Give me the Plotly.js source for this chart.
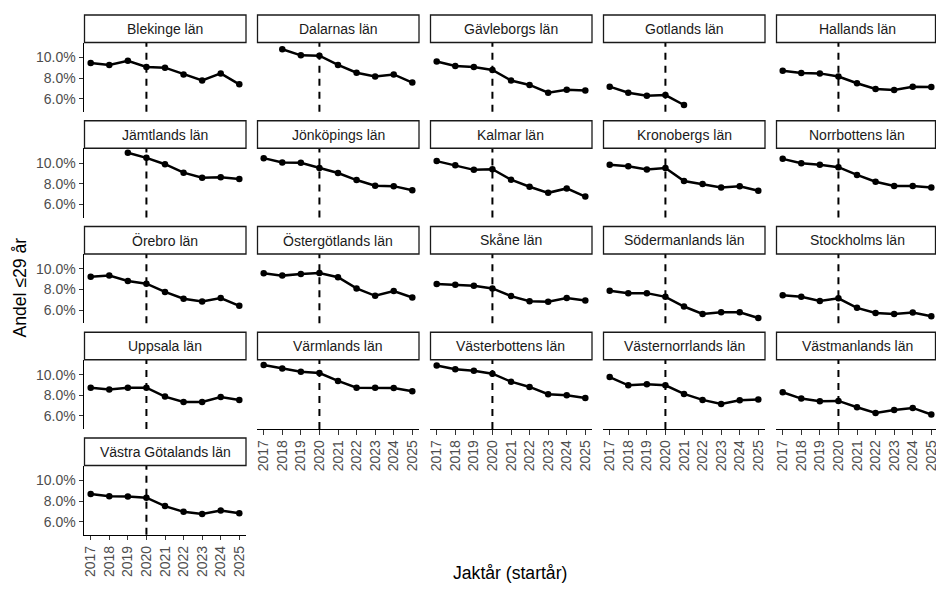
<!DOCTYPE html>
<html>
<head>
<meta charset="utf-8">
<script src="https://cdn.plot.ly/plotly-3.0.1.min.js"></script>
<style>html,body{margin:0;padding:0;background:#fff;}#chart{width:936px;height:597px;}</style>
</head>
<body>
<div id="chart"></div>
<script>
// ---- data ----
const years = [2017, 2018, 2019, 2020, 2021, 2022, 2023, 2024, 2025];
const yTicks = [6, 8, 10];
const yTickLabels = ["6.0%", "8.0%", "10.0%"];
const counties = [
  "Blekinge län", "Dalarnas län", "Gävleborgs län", "Gotlands län", "Hallands län",
  "Jämtlands län", "Jönköpings län", "Kalmar län", "Kronobergs län", "Norrbottens län",
  "Örebro län", "Östergötlands län", "Skåne län", "Södermanlands län", "Stockholms län",
  "Uppsala län", "Värmlands län", "Västerbottens län", "Västernorrlands län", "Västmanlands län",
  "Västra Götalands län"
];
const blekinge        = [9.47, 9.27, 9.67, 9.08, 9.01, 8.35, 7.76, 8.45, 7.39];
const dalarna         = [null, 10.79, 10.20, 10.17, 9.27, 8.51, 8.15, 8.35, 7.56];
const gavleborg       = [9.60, 9.17, 9.08, 8.78, 7.76, 7.33, 6.57, 6.86, 6.80];
const gotland         = [7.16, 6.57, 6.27, 6.34, 5.38, null, null, null, null];
const halland         = [8.71, 8.48, 8.45, 8.15, 7.49, 6.93, 6.83, 7.16, 7.13];
const jamtland        = [null, null, 11.01, 10.52, 9.90, 9.08, 8.59, 8.63, 8.46];
const jonkoping       = [10.49, 10.07, 10.03, 9.54, 9.05, 8.36, 7.81, 7.77, 7.38];
const kalmar          = [10.20, 9.80, 9.35, 9.41, 8.40, 7.71, 7.12, 7.55, 6.76];
const kronoberg       = [9.84, 9.71, 9.38, 9.54, 8.27, 7.97, 7.65, 7.75, 7.32];
const norrbotten      = [10.42, 10.00, 9.84, 9.61, 8.86, 8.20, 7.78, 7.78, 7.65];
const orebro          = [9.25, 9.35, 8.83, 8.57, 7.77, 7.10, 6.84, 7.17, 6.42];
const ostergotland    = [9.58, 9.35, 9.51, 9.61, 9.19, 8.11, 7.39, 7.85, 7.23];
const skane           = [8.53, 8.47, 8.37, 8.11, 7.36, 6.87, 6.81, 7.17, 6.94];
const sodermanland    = [7.87, 7.65, 7.65, 7.29, 6.35, 5.63, 5.79, 5.79, 5.24];
const stockholm       = [7.45, 7.29, 6.89, 7.15, 6.22, 5.73, 5.63, 5.76, 5.41];
const uppsala         = [8.74, 8.55, 8.74, 8.74, 7.87, 7.35, 7.35, 7.84, 7.55];
const varmland        = [10.94, 10.61, 10.29, 10.16, 9.39, 8.74, 8.74, 8.71, 8.39];
const vasterbotten    = [10.90, 10.52, 10.39, 10.10, 9.32, 8.81, 8.10, 8.00, 7.74];
const vasternorrland  = [9.77, 8.97, 9.06, 8.97, 8.13, 7.55, 7.16, 7.52, 7.58];
const vastmanland     = [8.29, 7.68, 7.42, 7.45, 6.84, 6.29, 6.58, 6.77, 6.13];
const vastraGotaland  = [8.69, 8.46, 8.43, 8.33, 7.51, 6.95, 6.75, 7.08, 6.82];
const refYear = 2020;

const seriesValues = [
  blekinge, dalarna, gavleborg, gotland, halland,
  jamtland, jonkoping, kalmar, kronoberg, norrbotten,
  orebro, ostergotland, skane, sodermanland, stockholm,
  uppsala, varmland, vasterbotten, vasternorrland, vastmanland,
  vastraGotaland
];

// ---- layout geometry ----
const W = 936, H = 597;
const FONT = "Liberation Sans, Arial, Helvetica, sans-serif";
const colLeft = 84, colStep = 173, panelW = 162;
const rowTop = 15, rowStep = 105.75, stripH = 27.5, plotH = 69.3;
const pxPerYear = 148.6 / 8, leftPadPx = 6.7;
const yRange = [4.72, 11.45];

const fx = px => px / W;
const fy = py => 1 - py / H;

const data = [];
const layout = {
  width: W, height: H,
  margin: {l: 0, r: 0, t: 0, b: 0},
  paper_bgcolor: "#fff", plot_bgcolor: "rgba(0,0,0,0)",
  showlegend: false,
  font: {family: FONT, size: 14, color: "#4D4D4D"},
  shapes: [], annotations: []
};

counties.forEach((name, i) => {
  const row = Math.floor(i / 5), col = i % 5;
  const n = i + 1;
  const xa = n === 1 ? "x" : "x" + n;
  const ya = n === 1 ? "y" : "y" + n;
  const xKey = n === 1 ? "xaxis" : "xaxis" + n;
  const yKey = n === 1 ? "yaxis" : "yaxis" + n;

  const x0 = colLeft + colStep * col;
  const x1 = Math.min(x0 + panelW, W);
  const sTop = rowTop + rowStep * row;
  const sBot = sTop + stripH;
  const pBot = sBot + plotH;

  const xStart = years[0] - leftPadPx / pxPerYear;
  const xEnd = xStart + (x1 - x0) / pxPerYear;

  const bottom = (row === 4) || (row === 3 && col >= 1);
  const left = col === 0;

  layout[xKey] = {
    domain: [fx(x0), fx(x1)], anchor: ya, range: [xStart, xEnd],
    showgrid: false, zeroline: false,
    showline: bottom, linecolor: "#000", linewidth: 1,
    tickmode: "array", tickvals: years, ticktext: years.map(String),
    showticklabels: bottom, ticks: bottom ? "outside" : "",
    ticklen: 4.5, tickwidth: 1, tickcolor: "#333", tickangle: -90,
    ticklabeloverflow: "allow",
    tickfont: {family: FONT, size: 14, color: "#4D4D4D"}
  };
  layout[yKey] = {
    domain: [fy(pBot), fy(sBot)], anchor: xa, range: yRange,
    showgrid: false, zeroline: false,
    showline: left, linecolor: "#000", linewidth: 1,
    tickmode: "array", tickvals: yTicks, ticktext: yTickLabels,
    showticklabels: left, ticks: left ? "outside" : "",
    ticklen: 4.5, tickwidth: 1, tickcolor: "#333",
    tickfont: {family: FONT, size: 14, color: "#4D4D4D"}
  };

  // reference dashed line
  layout.shapes.push({
    type: "line", xref: xa, yref: ya + " domain",
    x0: refYear, x1: refYear, y0: 0, y1: 1,
    line: {color: "#000", width: 2, dash: "7px,6px"}
  });
  // strip
  layout.shapes.push({
    type: "rect", xref: "paper", yref: "paper",
    x0: fx(x0 + 0.5), x1: fx(Math.min(x1, W - 0.5)), y0: fy(sBot), y1: fy(sTop),
    fillcolor: "#fff", line: {color: "#1a1a1a", width: 1.3}
  });
  layout.annotations.push({
    xref: "paper", yref: "paper", x: fx((x0 + x0 + panelW) / 2), y: fy((sTop + sBot) / 2),
    text: name, showarrow: false, xanchor: "center", yanchor: "middle",
    font: {family: FONT, size: 14, color: "#1A1A1A"}
  });

  data.push({
    type: "scatter", mode: "lines+markers", xaxis: xa, yaxis: ya,
    x: years, y: seriesValues[i], connectgaps: false, cliponaxis: false,
    line: {color: "#000", width: 2.5},
    marker: {color: "#000", size: 6.5},
    hoverinfo: "skip"
  });
});

layout.annotations.push({
  xref: "paper", yref: "paper", x: fx(19.5), y: fy(288),
  text: "Andel ≤29 år", showarrow: false, textangle: -90,
  xanchor: "center", yanchor: "middle",
  font: {family: FONT, size: 17.6, color: "#000"}
});
layout.annotations.push({
  xref: "paper", yref: "paper", x: fx(510), y: fy(573),
  text: "Jaktår (startår)", showarrow: false,
  xanchor: "center", yanchor: "middle",
  font: {family: FONT, size: 17.6, color: "#000"}
});

Plotly.newPlot("chart", data, layout, {staticPlot: true, displayModeBar: false});
</script>
</body>
</html>
